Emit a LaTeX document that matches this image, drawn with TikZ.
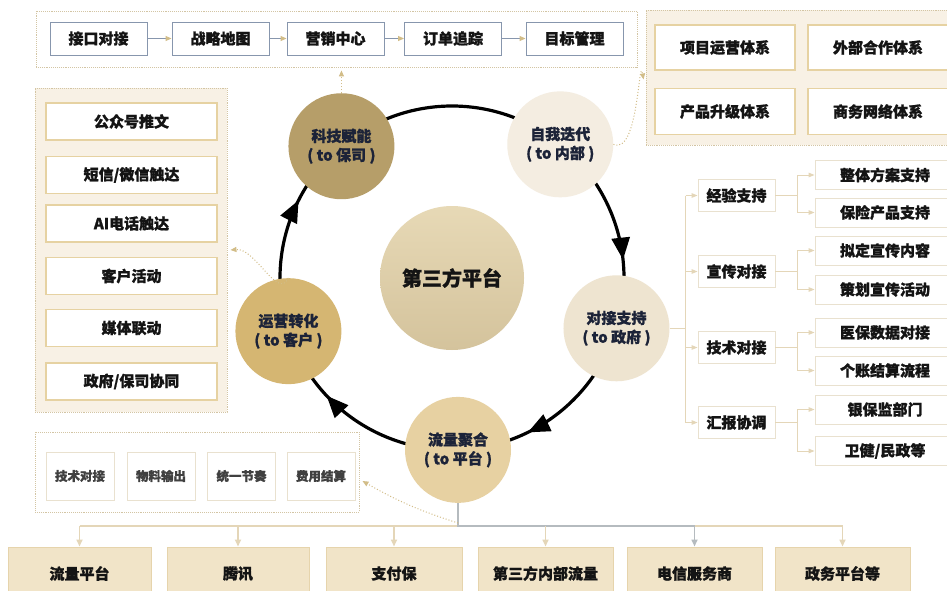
\documentclass[tikz,border=0pt]{standalone}
\usepackage{fontspec}
\setmainfont{Noto Sans CJK SC}[BoldFeatures={FakeBold=1.2}]
\usetikzlibrary{arrows.meta,decorations.markings}
\definecolor{khaki}{HTML}{D2BD88}
\definecolor{bluegray}{HTML}{8796AD}
\definecolor{beige}{HTML}{F8F1E5}
\definecolor{dotc}{HTML}{D3C5A4}
\definecolor{goldb}{HTML}{E6D2A2}
\definecolor{treec}{HTML}{E4D6B8}
\definecolor{treeb}{HTML}{E9E1CF}
\definecolor{bigfill}{HTML}{F1E4C8}
\definecolor{bigb}{HTML}{E6D4AC}
\definecolor{graystem}{HTML}{B5BBBF}
\definecolor{navy}{HTML}{1C2338}
\definecolor{ink}{HTML}{141414}
\definecolor{ckj}{HTML}{B69E69}
\definecolor{czw}{HTML}{F4EDE1}
\definecolor{cdj}{HTML}{EEE4D0}
\definecolor{cll}{HTML}{E7D1A2}
\definecolor{cyy}{HTML}{D5B672}
\definecolor{ctop}{HTML}{E7D9B6}
\definecolor{cbot}{HTML}{D4C39C}
\tikzset{
  txt/.style={font=\bfseries\fontsize{15}{18}\selectfont, text=ink},
  topbox/.style={txt, draw=bluegray, line width=0.9pt, fill=white, minimum width=97pt, minimum height=33pt, inner sep=0pt},
  container/.style={draw=dotc, densely dotted, line width=0.9pt, minimum width=#1, inner sep=0pt},
  goldbox/.style={txt, draw=goldb, line width=1.4pt, fill=white, inner sep=0pt},
  treebox/.style={txt, draw=treeb, line width=0.9pt, fill=white, inner sep=0pt},
  smallbox/.style={font=\bfseries\fontsize{12.5}{15}\selectfont, text=black!75, draw=treeb, line width=1pt, fill=white, minimum width=68pt, minimum height=48pt, inner sep=0pt},
  bigbox/.style={txt, draw=bigb, line width=1pt, fill=bigfill, minimum height=53pt, inner sep=0pt},
  circ/.style={circle, minimum size=106pt, inner sep=0pt, align=center, txt, text=navy, font=\bfseries\fontsize{15}{19}\selectfont},
  ring/.style={line width=3.2pt, black},
  ringarrow/.style={ring, postaction=decorate, decoration={markings, mark=at position 0.66 with {\arrow{Triangle[length=22pt,width=18pt]}}}},
  bgline/.style={draw=bluegray, line width=0.9pt, -{Triangle[length=6pt,width=5pt,color=khaki]}},
  dotarr/.style={draw=khaki, dotted, line width=1pt, -{Triangle[length=6pt,width=5pt]}},
  tline/.style={draw=treec, line width=1pt},
  tarr/.style={tline, -{Triangle[length=6pt,width=4.5pt]}},
  kline/.style={draw=treec, line width=1.6pt},
  karr/.style={kline, -{Triangle[length=7pt,width=6pt]}},
  gline/.style={draw=graystem, line width=1.6pt},
  garr/.style={gline, -{Triangle[length=7pt,width=6pt]}}
}
\begin{document}
\begin{tikzpicture}[x=1pt,y=-1pt]
\useasboundingbox (0,0) rectangle (947,591);
\fill[white] (0,0) rectangle (947,591);

% ---------- top strip ----------
\node[container=601pt, minimum height=56pt] (topc) at (336.5,39) {};
\node[topbox] (t1) at (98.5,38.5) {接口对接};
\node[topbox] (t2) at (220.5,38.5) {战略地图};
\node[topbox] (t3) at (335.5,38.5) {营销中心};
\node[topbox] (t4) at (453,38.5) {订单追踪};
\node[topbox] (t5) at (574.5,38.5) {目标管理};
\draw[bgline] (t1) -- (t2);
\draw[bgline] (t2) -- (t3);
\draw[bgline] (t3) -- (t4);
\draw[bgline] (t4) -- (t5);

% ---------- right top box ----------
\node[container=309pt, minimum height=135pt, fill=beige] (rc) at (800.5,77.5) {};
\node[goldbox, minimum width=140pt, minimum height=45pt] (r1) at (725,47.5) {项目运营体系};
\node[goldbox, minimum width=140pt, minimum height=45pt] (r2) at (878,47.5) {外部合作体系};
\node[goldbox, minimum width=140pt, minimum height=46pt] (r3) at (725,111.5) {产品升级体系};
\node[goldbox, minimum width=140pt, minimum height=46pt] (r4) at (878,111.5) {商务网络体系};

% ---------- left box ----------
\node[container=192pt, minimum height=324pt, fill=beige] (lc) at (131,250) {};
\node[goldbox, minimum width=171pt, minimum height=37pt] (l1) at (131.5,121.5) {公众号推文};
\node[goldbox, minimum width=171pt, minimum height=37pt] (l2) at (131.5,175) {短信/微信触达};
\node[goldbox, minimum width=171pt, minimum height=37pt] (l3) at (131.5,223.5) {AI电话触达};
\node[goldbox, minimum width=171pt, minimum height=37pt] (l4) at (131.5,276) {客户活动};
\node[goldbox, minimum width=171pt, minimum height=37pt] (l5) at (131.5,328) {媒体联动};
\node[goldbox, minimum width=171pt, minimum height=37pt] (l6) at (131.5,381.5) {政府/保司协同};

% ---------- ring ----------
\coordinate (ctr) at (452,278);
\draw[ringarrow] ([shift={(-51:172)}]ctr) arc[start angle=-51, end angle=17, radius=172];
\draw[ringarrow] ([shift={(17:172)}]ctr) arc[start angle=17, end angle=88, radius=172];
\draw[ringarrow] ([shift={(88:172)}]ctr) arc[start angle=88, end angle=162, radius=172];
\draw[ringarrow] ([shift={(162:172)}]ctr) arc[start angle=162, end angle=230, radius=172];
\draw[ring] ([shift={(230:172)}]ctr) arc[start angle=230, end angle=309, radius=172];

\node[circ, minimum size=144pt, top color=ctop, bottom color=cbot, font=\bfseries\fontsize{20}{24}\selectfont, text=ink] (pt) at (ctr) {第三方平台};
\node[circ, fill=ckj] (kj) at ([shift={(230:172)}]ctr) {科技赋能\\( to 保司 )};
\node[circ, fill=czw] (zw) at ([shift={(-51:172)}]ctr) {自我迭代\\( to 内部 )};
\node[circ, fill=cdj] (dj) at ([shift={(17:172)}]ctr) {对接支持\\( to 政府 )};
\node[circ, fill=cll] (ll) at ([shift={(88:172)}]ctr) {流量聚合\\( to 平台 )};
\node[circ, fill=cyy] (yy) at ([shift={(162:172)}]ctr) {运营转化\\( to 客户 )};

% dotted links
\draw[dotarr] (kj.north) -- ([yshift=-3pt]kj.north |- topc.south);
\draw[dotarr] (zw.east) to[out=-25, in=100] ([xshift=-2pt,yshift=-2pt]rc.west);
\draw[dotarr] (yy.north) to[out=-115, in=5] ([xshift=3pt]lc.east);

% ---------- right tree ----------
\node[treebox, minimum width=77pt, minimum height=32pt] (e1) at (736.5,195.5) {经验支持};
\node[treebox, minimum width=77pt, minimum height=32pt] (e2) at (736.5,271.5) {宣传对接};
\node[treebox, minimum width=77pt, minimum height=32pt] (e3) at (736.5,347.5) {技术对接};
\node[treebox, minimum width=77pt, minimum height=32pt] (e4) at (736.5,422.5) {汇报协调};
\node[treebox, minimum width=140pt, minimum height=29pt] (f1) at (885,175) {整体方案支持};
\node[treebox, minimum width=140pt, minimum height=29pt] (f2) at (885,212.5) {保险产品支持};
\node[treebox, minimum width=140pt, minimum height=29pt] (f3) at (885,250.5) {拟定宣传内容};
\node[treebox, minimum width=140pt, minimum height=29pt] (f4) at (885,289.5) {策划宣传活动};
\node[treebox, minimum width=140pt, minimum height=29pt] (f5) at (885,332.5) {医保数据对接};
\node[treebox, minimum width=140pt, minimum height=29pt] (f6) at (885,370.5) {个账结算流程};
\node[treebox, minimum width=140pt, minimum height=29pt] (f7) at (885,409.5) {银保监部门};
\node[treebox, minimum width=140pt, minimum height=29pt] (f8) at (885,451) {卫健/民政等};

\draw[tline] (dj.east) -- ++(16,0) coordinate (tr);
\draw[tline] (tr |- e1) -- (tr |- e4);
\foreach \e in {e1,e2,e3,e4} \draw[tarr] (tr |- \e) -- (\e.west);
\foreach \e/\a/\b in {e1/f1/f2, e2/f3/f4, e3/f5/f6, e4/f7/f8} {
  \draw[tline] (\e.east) -- ++(22,0) coordinate (br);
  \draw[tline] (br |- \a) -- (br |- \b);
  \draw[tarr] (br |- \a) -- (\a.west);
  \draw[tarr] (br |- \b) -- (\b.west);
}

% ---------- bottom small box ----------
\node[container=324pt, minimum height=80pt] (sc) at (197,472) {};
\node[smallbox] (s1) at (80,476) {技术对接};
\node[smallbox] (s2) at (161,476) {物料输出};
\node[smallbox] (s3) at (241.5,476) {统一节奏};
\node[smallbox] (s4) at (321,476) {费用结算};

% ---------- bottom row ----------
\node[bigbox, minimum width=143pt] (g1) at (79.5,573.5) {流量平台};
\node[bigbox, minimum width=142pt] (g2) at (238,573.5) {腾讯};
\node[bigbox, minimum width=136pt] (g3) at (394,573.5) {支付保};
\node[bigbox, minimum width=135pt] (g4) at (545.5,573.5) {第三方内部流量};
\node[bigbox, minimum width=135pt] (g5) at (694.5,573.5) {电信服务商};
\node[bigbox, minimum width=135pt] (g6) at (842.5,573.5) {政务平台等};

\coordinate (hj) at (ll.south |- 0,526);
\draw[kline] (g1.north |- hj) -- (hj);
\draw[kline] (g5.north |- hj) -- (g6.north |- hj);
\draw[gline] (ll.south) -- (hj) -- (g5.north |- hj);
\foreach \g in {g1,g2,g3,g4,g6} \draw[karr] (\g.north |- hj) -- (\g.north);
\draw[garr] (g5.north |- hj) -- (g5.north);
\draw[dotarr] ([yshift=3pt]hj) to[bend left=6] ([xshift=3pt,yshift=-9pt]sc.east);
\end{tikzpicture}
\end{document}
